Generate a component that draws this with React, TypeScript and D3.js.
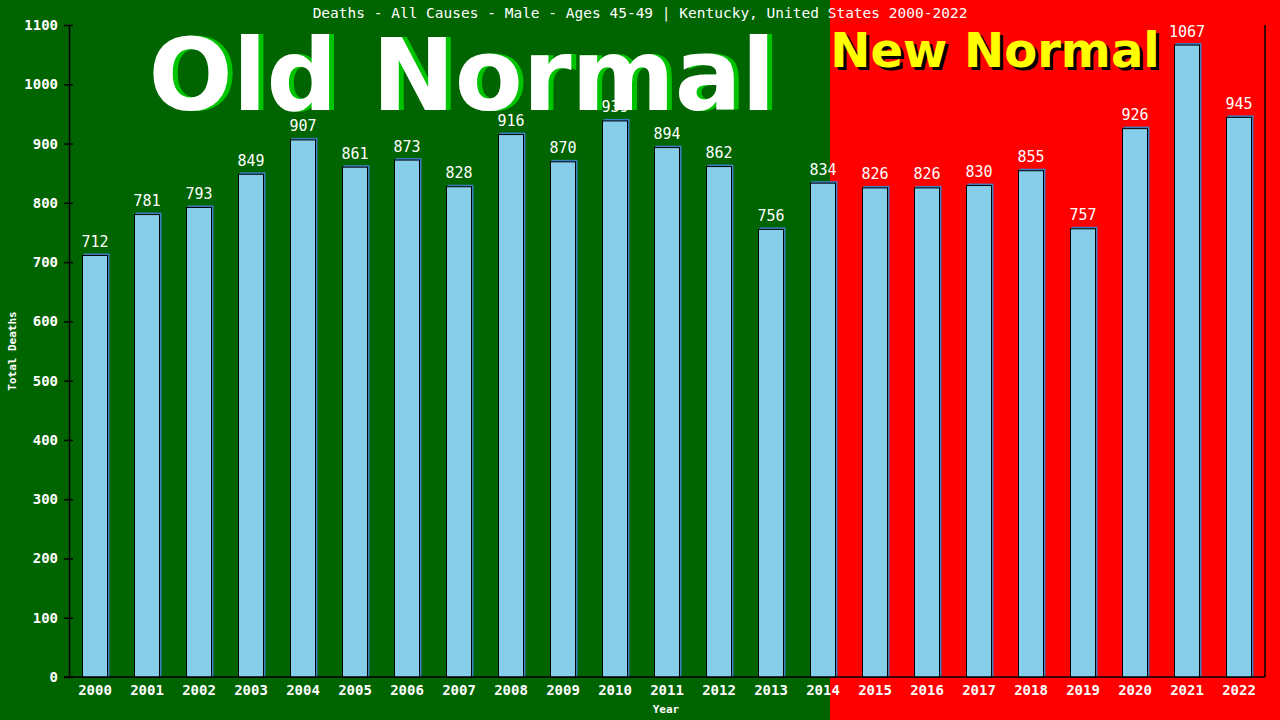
import React, { useEffect, useRef } from "react";
import * as d3 from "d3";

const years = [
  "2000", "2001", "2002", "2003", "2004", "2005", "2006", "2007", "2008", "2009", "2010", "2011",
  "2012", "2013", "2014", "2015", "2016", "2017", "2018", "2019", "2020", "2021", "2022",
];
const deaths = [
  712, 781, 793, 849, 907, 861, 873, 828, 916, 870, 939, 894, 862, 756, 834, 826, 826, 830, 855,
  757, 926, 1067, 945,
];
const yTicks = [0, 100, 200, 300, 400, 500, 600, 700, 800, 900, 1000, 1100];
const title = "Deaths - All Causes - Male - Ages 45-49 | Kentucky, United States 2000-2022";

const MONO = "'DejaVu Sans Mono', monospace";
const BOLD_SANS = "'DejaVu Sans', Verdana, sans-serif";

export default function App() {
  const ref = useRef<SVGSVGElement>(null);

  useEffect(() => {
    if (!ref.current) return;
    const width = 1280;
    const height = 720;
    const margin = { top: 25, right: 15, bottom: 43, left: 69 };
    const chartWidth = width - margin.left - margin.right;
    const chartHeight = height - margin.top - margin.bottom;

    const root = d3.select(ref.current);
    root.selectAll("*").remove();

    // Backgrounds (old normal / new normal)
    root.append("rect").attr("width", 830).attr("height", height).attr("fill", "#006400");
    root.append("rect").attr("x", 830).attr("width", width - 830).attr("height", height).attr("fill", "#ff0000");

    const svg = root.append("g").attr("transform", `translate(${margin.left},${margin.top})`);

    const x = d3
      .scaleBand()
      .domain(years)
      .range([0, chartWidth])
      .paddingInner(0.5)
      .paddingOuter(0.25);

    const y = d3.scaleLinear().domain([0, 1100]).range([chartHeight, 0]);

    // Bars: blue offset shadow, then sky blue with black outline
    const data = years.map((yr, i) => ({ year: yr, value: deaths[i] }));
    svg
      .selectAll(".shadow")
      .data(data)
      .enter()
      .append("rect")
      .attr("x", (d) => (x(d.year) || 0) + 1.5)
      .attr("y", (d) => y(d.value) - 1.5)
      .attr("width", x.bandwidth())
      .attr("height", (d) => chartHeight - y(d.value) + 1.5)
      .attr("fill", "#3a7fc0");
    svg
      .selectAll(".bar")
      .data(data)
      .enter()
      .append("rect")
      .attr("x", (d) => (x(d.year) || 0) + 0.5)
      .attr("y", (d) => y(d.value) + 0.5)
      .attr("width", x.bandwidth() - 1)
      .attr("height", (d) => chartHeight - y(d.value))
      .attr("fill", "#87ceeb")
      .attr("stroke", "#000")
      .attr("stroke-width", 1);

    // Value labels
    svg
      .selectAll(".val")
      .data(data)
      .enter()
      .append("text")
      .attr("x", (d) => (x(d.year) || 0) + x.bandwidth() / 2)
      .attr("y", (d) => y(d.value) - 8)
      .attr("text-anchor", "middle")
      .attr("fill", "#fff")
      .attr("font-family", MONO)
      .attr("font-size", 15)
      .text((d) => String(d.value));

    // Y axis
    const yAxis = svg
      .append("g")
      .call(
        d3
          .axisLeft(y)
          .tickValues(yTicks)
          .tickFormat((d) => String(d))
          .tickSize(0)
          .tickPadding(11),
      );
    yAxis.select(".domain").attr("stroke", "#000").attr("stroke-width", 1.5);
    yAxis
      .selectAll(".tick")
      .append("line")
      .attr("x1", -5)
      .attr("x2", 4)
      .attr("stroke", "#000")
      .attr("stroke-width", 1.5);
    yAxis
      .selectAll(".tick text")
      .attr("fill", "#fff")
      .attr("font-family", MONO)
      .attr("font-weight", "bold")
      .attr("font-size", 14);

    // X axis
    const xAxis = svg
      .append("g")
      .attr("transform", `translate(0,${chartHeight})`)
      .call(d3.axisBottom(x).tickSize(0).tickPadding(8));
    xAxis.select(".domain").remove();
    xAxis
      .selectAll(".tick text")
      .attr("fill", "#fff")
      .attr("font-family", MONO)
      .attr("font-weight", "bold")
      .attr("font-size", 14);

    // Frame lines: bottom and right
    svg
      .append("line")
      .attr("x1", -5)
      .attr("x2", chartWidth)
      .attr("y1", chartHeight)
      .attr("y2", chartHeight)
      .attr("stroke", "#000")
      .attr("stroke-width", 1.5);
    svg
      .append("line")
      .attr("x1", chartWidth)
      .attr("x2", chartWidth)
      .attr("y1", 0)
      .attr("y2", chartHeight)
      .attr("stroke", "#000")
      .attr("stroke-width", 1.5);

    // Axis titles
    root
      .append("text")
      .attr("x", 666)
      .attr("y", 713)
      .attr("text-anchor", "middle")
      .attr("fill", "#fff")
      .attr("font-family", MONO)
      .attr("font-weight", "bold")
      .attr("font-size", 11)
      .text("Year");
    root
      .append("text")
      .attr("transform", "translate(16,351) rotate(-90)")
      .attr("text-anchor", "middle")
      .attr("fill", "#fff")
      .attr("font-family", MONO)
      .attr("font-weight", "bold")
      .attr("font-size", 11)
      .text("Total Deaths");

    // Big overlay words
    root
      .append("text")
      .attr("x", 467)
      .attr("y", 110)
      .attr("text-anchor", "middle")
      .attr("fill", "#00c400")
      .attr("font-family", BOLD_SANS)
      .attr("font-weight", "bold")
      .attr("font-size", 99)
      .text("Old Normal");
    root
      .append("text")
      .attr("x", 462)
      .attr("y", 110)
      .attr("text-anchor", "middle")
      .attr("fill", "#fff")
      .attr("font-family", BOLD_SANS)
      .attr("font-weight", "bold")
      .attr("font-size", 99)
      .text("Old Normal");

    root
      .append("text")
      .attr("x", 998)
      .attr("y", 70)
      .attr("text-anchor", "middle")
      .attr("fill", "#000")
      .attr("font-family", BOLD_SANS)
      .attr("font-weight", "bold")
      .attr("font-size", 48)
      .text("New Normal");
    root
      .append("text")
      .attr("x", 995)
      .attr("y", 67)
      .attr("text-anchor", "middle")
      .attr("fill", "#ffff00")
      .attr("font-family", BOLD_SANS)
      .attr("font-weight", "bold")
      .attr("font-size", 48)
      .text("New Normal");

    // Title
    root
      .append("text")
      .attr("x", 640)
      .attr("y", 18)
      .attr("text-anchor", "middle")
      .attr("fill", "#fff")
      .attr("font-family", MONO)
      .attr("font-size", 14.5)
      .text(title);
  }, []);

  return (
    <svg
      ref={ref}
      width={1280}
      height={720}
      style={{ position: "absolute", left: 0, top: 0, display: "block" }}
    />
  );
}
